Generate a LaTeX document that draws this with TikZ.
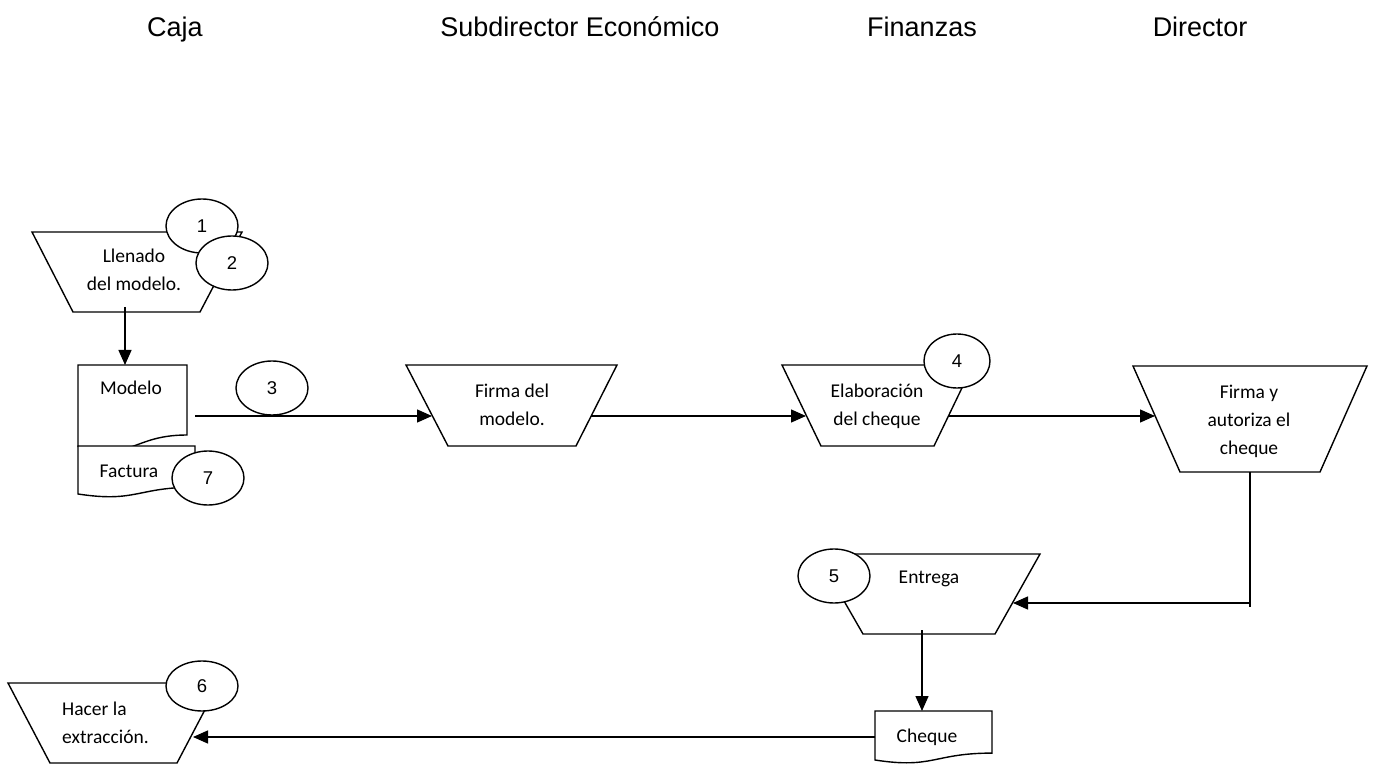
\documentclass[tikz,border=0pt]{standalone}
\usepackage{fontspec}
\setmainfont{Carlito}
\newfontfamily\arialf{Liberation Sans}
\usetikzlibrary{shapes.geometric,arrows.meta}
\begin{document}
\begin{tikzpicture}[x=1pt,y=-1pt,
  shp/.style={draw,line width=1.4pt,fill=white,line join=miter},
  conn/.style={line width=1.4pt},
  arr/.style={conn,-{Triangle[length=15pt,width=13pt]}},
  num/.style={ellipse,draw,line width=1.4pt,fill=white,minimum width=72pt,minimum height=54pt,inner sep=0pt,font=\arialf\fontsize{18.5}{20}\selectfont},
  txt/.style={inner sep=0pt,font=\fontsize{19.5}{28}\selectfont,align=center},
  ttl/.style={inner sep=0pt,anchor=base,font=\arialf\fontsize{27}{32}\selectfont}]
\useasboundingbox (0,0) rectangle (1377,767);

% titles
\node[ttl] (tCaja) at (175,37) {Caja};
\node[ttl] (tSub) at (580,37) {Subdirector Económico};
\node[ttl] (tFin) at (922,37) {Finanzas};
\node[ttl] (tDir) at (1200,37) {Director};

% shapes
\draw[shp] (32,232) -- (242,232) -- (200,312) -- (73,312) -- cycle;
\draw[shp] (406,365) -- (617,365) -- (576,446) -- (448,446) -- cycle;
\draw[shp] (782,365) -- (973,365) -- (934,446) -- (821,446) -- cycle;
\draw[shp] (1133,366) -- (1367,366) -- (1320,472) -- (1180,472) -- cycle;
\draw[shp] (817,554) -- (1040,554) -- (995,634) -- (863,634) -- cycle;
\draw[shp] (8,683) -- (219,683) -- (177,763) -- (50,763) -- cycle;
% documents
\draw[shp] (78,365) -- (187,365) -- (187,435) .. controls (132.5,435) and (132.5,461.7) .. (78,446.5) -- cycle;
\draw[shp] (78,446) -- (195,446) -- (195,487.2) .. controls (136.5,487.2) and (136.5,502.9) .. (78,494) -- cycle;
\draw[shp] (875,711) -- (992,711) -- (992,753.1) .. controls (933.5,753.1) and (933.5,769.1) .. (875,760) -- cycle;

% texts
\node[txt] (tLlen) at (134,270) {Llenado\\del modelo.};
\node[txt,anchor=base] (tMod) at (131,395) {Modelo};
\node[txt,anchor=base] (tFac) at (129,477) {Factura};
\node[txt] (tFirma) at (512,405) {Firma del\\modelo.};
\node[txt] (tElab) at (877,406) {Elaboración\\del cheque};
\node[txt] (tFirY) at (1249,421) {Firma y\\autoriza el\\cheque};
\node[txt,anchor=base] (tEnt) at (929,583) {Entrega};
\node[txt,anchor=base] (tChq) at (927,742) {Cheque};
\node[txt,align=left,anchor=west] (tHac) at (62,723) {Hacer la\\extracción.};

% connector ends
\coordinate (llenB) at (125,307);
\coordinate (modT) at (125,365);
\coordinate (modR) at (195,416);
\coordinate (firL) at (432,416);
\coordinate (firR) at (591,416);
\coordinate (elaL) at (806,416);
\coordinate (elaR) at (949,416);
\coordinate (fyL) at (1155,416);
\coordinate (fyB) at (1250,472);
\coordinate (fyEnd) at (1250,607);
\coordinate (corner) at (1250,603);
\coordinate (entR) at (1013,603);
\coordinate (entB) at (922,630);
\coordinate (chqT) at (922,711);
\coordinate (chqL) at (875,737);
\coordinate (hacR) at (193,737);

\draw[arr] (llenB) -- (modT);
\draw[arr] (modR) -- (firL);
\draw[arr] (firR) -- (elaL);
\draw[arr] (elaR) -- (fyL);
\draw[conn] (fyB) -- (fyEnd);
\draw[arr] (corner) -- (entR);
\draw[arr] (entB) -- (chqT);
\draw[arr] (chqL) -- (hacR);

% numbers
\node[num] (n1) at (202,226) {1};
\node[num] (n2) at (232,263) {2};
\node[num] (n3) at (272,388) {3};
\node[num,minimum width=66pt] (n4) at (957,361) {4};
\node[num] (n5) at (834,576) {5};
\node[num,minimum height=50pt] (n6) at (202,686) {6};
\node[num] (n7) at (208,478) {7};
\end{tikzpicture}
\end{document}
